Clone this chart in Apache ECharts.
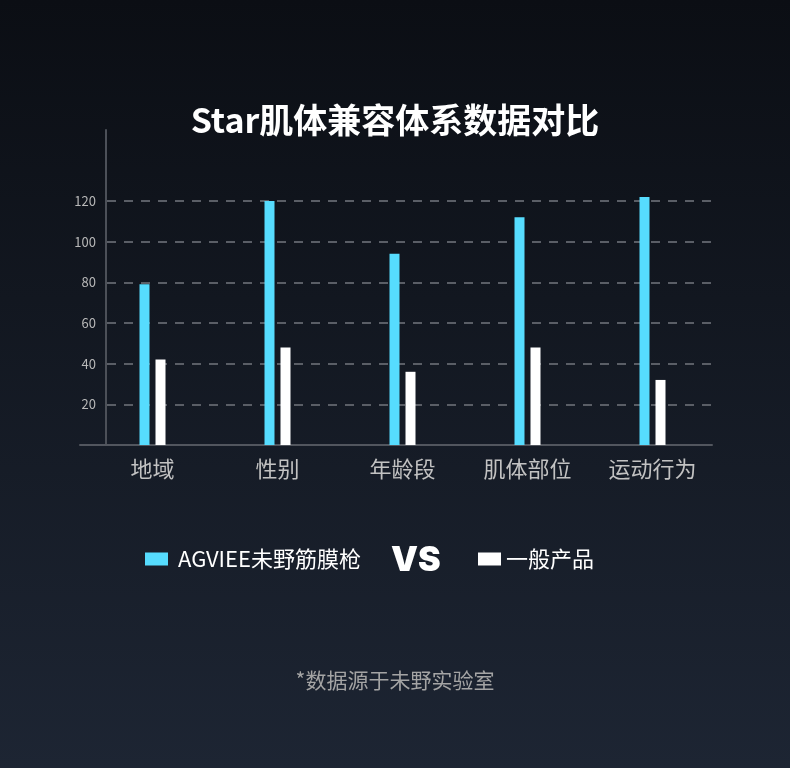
<!DOCTYPE html>
<html>
<head>
<meta charset="utf-8">
<script src="https://cdn.jsdelivr.net/npm/echarts@6/dist/echarts.min.js"></script>
<style>
html, body { margin: 0; padding: 0; background: #0b0e14; }
#main { width: 790px; height: 768px; }
</style>
</head>
<body>
<div id="main"></div>
<script>
"use strict";
let categories = ['地域', '性别', '年龄段', '肌体部位', '运动行为'];
let seriesNames = ['AGVIEE未野筋膜枪', '一般产品'];
let agvieeValues = [79, 120, 94, 112, 122];
let generalValues = [42, 48, 36, 48, 32];
let yMin = 0;
let yMax = 120;
let yStep = 20;

let font = 'Noto Sans CJK SC';
let myChart = echarts.init(document.getElementById('main'));

let option = {
    backgroundColor: new echarts.graphic.LinearGradient(0, 0, 0, 1, [
        {offset: 0, color: '#0b0e14'},
        {offset: 1, color: '#1d2533'}
    ]),
    textStyle: {fontFamily: font},
    title: [
        {
            text: 'Star肌体兼容体系数据对比',
            left: 'center',
            top: 98,
            textStyle: {color: '#ffffff', fontSize: 34, fontWeight: 'bold', fontFamily: font}
        },
        {
            text: 'VS',
            left: 386,
            top: 539,
            textStyle: {color: '#ffffff', fontSize: 34, fontWeight: 900, fontFamily: 'Inter'}
        },
        {
            text: '*数据源于未野实验室',
            left: 'center',
            top: 665,
            textStyle: {color: '#a4a4a4', fontSize: 21, fontWeight: 'normal', fontFamily: font}
        }
    ],
    legend: [
        {
            data: [seriesNames[0]],
            left: 145,
            top: 548,
            padding: 0,
            icon: 'rect',
            itemWidth: 23,
            itemHeight: 13,
            textStyle: {color: '#ffffff', fontSize: 22, padding: [0, 0, 0, 5]}
        },
        {
            data: [seriesNames[1]],
            left: 478,
            top: 548,
            padding: 0,
            icon: 'rect',
            itemWidth: 23,
            itemHeight: 13,
            textStyle: {color: '#ffffff', fontSize: 22, padding: [0, 0, 0, 0]}
        }
    ],
    grid: [
        // bars + category labels
        {left: 90, right: 75, top: 201, bottom: 323, outerBoundsMode: 'none'},
        // value labels + dashed lines
        {left: 107, right: 78, top: 201, bottom: 323, outerBoundsMode: 'none'},
        // axis lines
        {left: 80, right: 78, top: 130, bottom: 323, outerBoundsMode: 'none'}
    ],
    xAxis: [
        {
            gridIndex: 0,
            type: 'category',
            data: categories,
            axisLine: {show: false},
            axisTick: {show: false},
            axisLabel: {color: '#c2c2c2', fontSize: 22, margin: 13}
        },
        {gridIndex: 1, type: 'value', min: 0, max: 1, show: false},
        {
            gridIndex: 2,
            type: 'value',
            min: 0,
            max: 1,
            axisLine: {show: true, onZero: false, lineStyle: {color: '#52565e', width: 2}},
            axisTick: {show: false},
            axisLabel: {show: false},
            splitLine: {show: false}
        }
    ],
    yAxis: [
        {gridIndex: 0, type: 'value', min: yMin, max: yMax, show: false},
        {
            gridIndex: 1,
            type: 'value',
            min: yMin,
            max: yMax,
            interval: yStep,
            axisLine: {show: false},
            axisTick: {show: false},
            axisLabel: {color: '#b8b8b8', fontSize: 13, margin: 11, showMinLabel: false},
            splitLine: {
                show: true,
                showMinLine: false,
                lineStyle: {color: '#5a5e66', width: 2, type: [9, 8]}
            }
        },
        {
            gridIndex: 2,
            type: 'value',
            min: 0,
            max: 1,
            offset: -26,
            axisLine: {show: true, onZero: false, lineStyle: {color: '#4c5058', width: 2}},
            axisTick: {show: false},
            axisLabel: {show: false},
            splitLine: {show: false}
        }
    ],
    series: [
        {
            name: seriesNames[0],
            type: 'bar',
            xAxisIndex: 0,
            yAxisIndex: 0,
            data: agvieeValues,
            barWidth: 10,
            barGap: '60%',
            clip: false,
            itemStyle: {color: '#56dcfe'}
        },
        {
            name: seriesNames[1],
            type: 'bar',
            xAxisIndex: 0,
            yAxisIndex: 0,
            data: generalValues,
            barWidth: 10,
            clip: false,
            itemStyle: {color: '#ffffff'}
        }
    ]
};
myChart.setOption(option);
</script>
</body>
</html>
